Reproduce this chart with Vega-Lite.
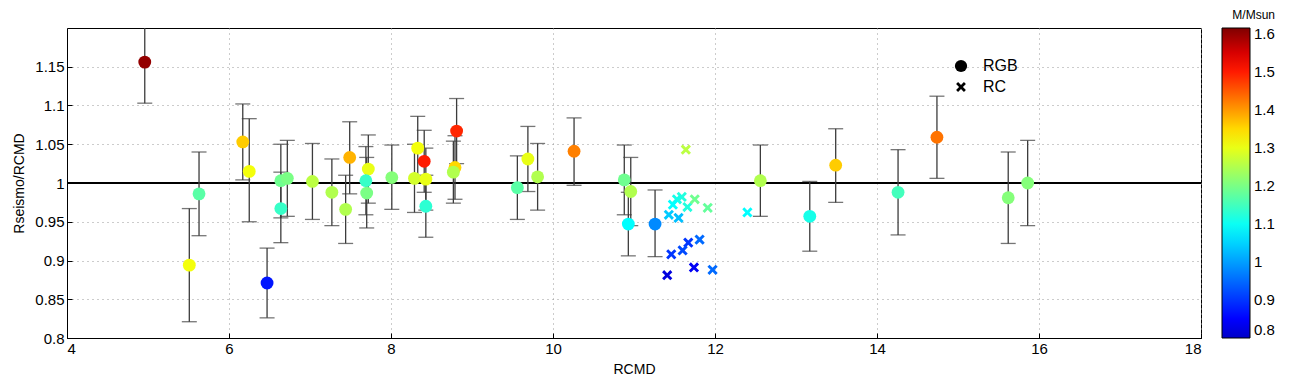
{
  "$schema": "https://vega.github.io/schema/vega-lite/v6.json",
  "width": 1134,
  "height": 310,
  "autosize": {"type": "none"},
  "padding": {"left": 67, "top": 28, "right": 92, "bottom": 44},
  "background": "white",
  "config": {
    "font": "Liberation Sans",
    "view": {"stroke": "black", "strokeWidth": 1},
    "axis": {
      "labelFont": "Liberation Sans",
      "titleFont": "Liberation Sans",
      "labelFontSize": 15,
      "titleFontSize": 14,
      "titleFontWeight": "normal",
      "labelColor": "black",
      "titleColor": "black",
      "domainColor": "black",
      "tickColor": "black",
      "tickSize": -5,
      "labelPadding": 8,
      "grid": true,
      "gridColor": "#999999",
      "gridDash": [1, 4],
      "gridWidth": 1
    }
  },
  "data": {
    "values": [
      {"r": 4.96, "ratio": 1.156, "lo": 1.103, "hi": 1.209, "mass": 1.6, "type": "RGB"},
      {"r": 5.51, "ratio": 0.894, "lo": 0.821, "hi": 0.967, "mass": 1.31, "type": "RGB"},
      {"r": 5.63, "ratio": 0.986, "lo": 0.932, "hi": 1.040, "mass": 1.17, "type": "RGB"},
      {"r": 6.17, "ratio": 1.053, "lo": 1.004, "hi": 1.102, "mass": 1.36, "type": "RGB"},
      {"r": 6.25, "ratio": 1.015, "lo": 0.950, "hi": 1.083, "mass": 1.31, "type": "RGB"},
      {"r": 6.47, "ratio": 0.871, "lo": 0.826, "hi": 0.916, "mass": 0.87, "type": "RGB"},
      {"r": 6.64, "ratio": 0.967, "lo": 0.923, "hi": 1.014, "mass": 1.14, "type": "RGB"},
      {"r": 6.64, "ratio": 1.003, "lo": 0.955, "hi": 1.050, "mass": 1.19, "type": "RGB"},
      {"r": 6.72, "ratio": 1.006, "lo": 0.957, "hi": 1.055, "mass": 1.2, "type": "RGB"},
      {"r": 7.03, "ratio": 1.002, "lo": 0.953, "hi": 1.051, "mass": 1.26, "type": "RGB"},
      {"r": 7.27, "ratio": 0.988, "lo": 0.945, "hi": 1.031, "mass": 1.25, "type": "RGB"},
      {"r": 7.44, "ratio": 0.966, "lo": 0.922, "hi": 1.010, "mass": 1.25, "type": "RGB"},
      {"r": 7.49, "ratio": 1.033, "lo": 0.986, "hi": 1.079, "mass": 1.38, "type": "RGB"},
      {"r": 7.72, "ratio": 1.018, "lo": 0.974, "hi": 1.062, "mass": 1.3, "type": "RGB"},
      {"r": 7.69, "ratio": 1.003, "lo": 0.959, "hi": 1.047, "mass": 1.14, "type": "RGB"},
      {"r": 7.70, "ratio": 0.987, "lo": 0.942, "hi": 1.033, "mass": 1.2, "type": "RGB"},
      {"r": 8.01, "ratio": 1.007, "lo": 0.966, "hi": 1.049, "mass": 1.21, "type": "RGB"},
      {"r": 8.33, "ratio": 1.045, "lo": 1.004, "hi": 1.086, "mass": 1.31, "type": "RGB"},
      {"r": 8.29, "ratio": 1.006, "lo": 0.962, "hi": 1.050, "mass": 1.28, "type": "RGB"},
      {"r": 8.41, "ratio": 1.028, "lo": 0.988, "hi": 1.068, "mass": 1.5, "type": "RGB"},
      {"r": 8.43, "ratio": 1.005, "lo": 0.965, "hi": 1.045, "mass": 1.3, "type": "RGB"},
      {"r": 8.43, "ratio": 0.970, "lo": 0.930, "hi": 1.010, "mass": 1.13, "type": "RGB"},
      {"r": 8.81, "ratio": 1.067, "lo": 1.025, "hi": 1.109, "mass": 1.49, "type": "RGB"},
      {"r": 8.79, "ratio": 1.020, "lo": 0.979, "hi": 1.061, "mass": 1.35, "type": "RGB"},
      {"r": 8.77, "ratio": 1.014, "lo": 0.974, "hi": 1.054, "mass": 1.25, "type": "RGB"},
      {"r": 9.56, "ratio": 0.994, "lo": 0.953, "hi": 1.035, "mass": 1.17, "type": "RGB"},
      {"r": 9.69, "ratio": 1.031, "lo": 0.989, "hi": 1.073, "mass": 1.3, "type": "RGB"},
      {"r": 9.81, "ratio": 1.008, "lo": 0.965, "hi": 1.051, "mass": 1.25, "type": "RGB"},
      {"r": 10.26, "ratio": 1.041, "lo": 0.997, "hi": 1.084, "mass": 1.42, "type": "RGB"},
      {"r": 10.88, "ratio": 1.004, "lo": 0.959, "hi": 1.049, "mass": 1.19, "type": "RGB"},
      {"r": 10.96, "ratio": 0.989, "lo": 0.945, "hi": 1.033, "mass": 1.25, "type": "RGB"},
      {"r": 10.93, "ratio": 0.947, "lo": 0.906, "hi": 0.988, "mass": 1.09, "type": "RGB"},
      {"r": 11.26, "ratio": 0.947, "lo": 0.905, "hi": 0.991, "mass": 0.98, "type": "RGB"},
      {"r": 12.56, "ratio": 1.003, "lo": 0.957, "hi": 1.049, "mass": 1.25, "type": "RGB"},
      {"r": 13.17, "ratio": 0.957, "lo": 0.912, "hi": 1.002, "mass": 1.11, "type": "RGB"},
      {"r": 13.49, "ratio": 1.023, "lo": 0.975, "hi": 1.070, "mass": 1.36, "type": "RGB"},
      {"r": 14.26, "ratio": 0.988, "lo": 0.933, "hi": 1.043, "mass": 1.15, "type": "RGB"},
      {"r": 14.74, "ratio": 1.059, "lo": 1.006, "hi": 1.112, "mass": 1.43, "type": "RGB"},
      {"r": 15.62, "ratio": 0.981, "lo": 0.922, "hi": 1.040, "mass": 1.21, "type": "RGB"},
      {"r": 15.86, "ratio": 1.000, "lo": 0.945, "hi": 1.055, "mass": 1.21, "type": "RGB"},
      {"r": 11.64, "ratio": 1.043, "mass": 1.26, "type": "RC"},
      {"r": 11.59, "ratio": 0.982, "mass": 1.12, "type": "RC"},
      {"r": 11.53, "ratio": 0.979, "mass": 1.11, "type": "RC"},
      {"r": 11.48, "ratio": 0.972, "mass": 1.09, "type": "RC"},
      {"r": 11.66, "ratio": 0.969, "mass": 1.12, "type": "RC"},
      {"r": 11.75, "ratio": 0.979, "mass": 1.19, "type": "RC"},
      {"r": 11.91, "ratio": 0.968, "mass": 1.18, "type": "RC"},
      {"r": 11.43, "ratio": 0.959, "mass": 1.04, "type": "RC"},
      {"r": 11.55, "ratio": 0.955, "mass": 1.03, "type": "RC"},
      {"r": 12.40, "ratio": 0.962, "mass": 1.09, "type": "RC"},
      {"r": 11.81, "ratio": 0.927, "mass": 0.95, "type": "RC"},
      {"r": 11.67, "ratio": 0.923, "mass": 0.9, "type": "RC"},
      {"r": 11.60, "ratio": 0.913, "mass": 0.92, "type": "RC"},
      {"r": 11.46, "ratio": 0.908, "mass": 0.9, "type": "RC"},
      {"r": 11.41, "ratio": 0.881, "mass": 0.82, "type": "RC"},
      {"r": 11.74, "ratio": 0.891, "mass": 0.84, "type": "RC"},
      {"r": 11.97, "ratio": 0.888, "mass": 0.95, "type": "RC"}
    ]
  },
  "encoding": {
    "x": {
      "field": "r", "type": "quantitative",
      "scale": {"domain": [4, 18], "nice": false, "zero": false},
      "axis": {"values": [4, 6, 8, 10, 12, 14, 16, 18], "title": "RCMD", "titlePadding": 6}
    }
  },
  "layer": [
    {
      "mark": {"type": "rule", "color": "black", "strokeWidth": 1},
      "encoding": {"y": {"datum": 1, "type": "quantitative"}, "x": null}
    },
    {
      "transform": [{"filter": "datum.type === 'RGB'"}],
      "mark": {"type": "rule", "color": "#3c3c3c", "strokeWidth": 1.3, "clip": true},
      "encoding": {
        "y": {"field": "lo", "type": "quantitative",
          "scale": {"domain": [0.8, 1.2], "nice": false, "zero": false},
          "axis": {"values": [0.8, 0.85, 0.9, 0.95, 1, 1.05, 1.1, 1.15], "format": "~g", "title": "Rseismo/RCMD", "titlePadding": 8}},
        "y2": {"field": "hi"}
      }
    },
    {
      "transform": [{"filter": "datum.type === 'RGB'"}],
      "mark": {"type": "tick", "orient": "horizontal", "color": "#3c3c3c", "size": 15, "thickness": 1.3, "clip": true},
      "encoding": {"y": {"field": "lo", "type": "quantitative"}}
    },
    {
      "transform": [{"filter": "datum.type === 'RGB'"}],
      "mark": {"type": "tick", "orient": "horizontal", "color": "#3c3c3c", "size": 15, "thickness": 1.3, "clip": true},
      "encoding": {"y": {"field": "hi", "type": "quantitative"}}
    },
    {
      "mark": {"type": "point", "filled": true, "opacity": 1, "strokeWidth": 0, "size": 165},
      "encoding": {
        "y": {"field": "ratio", "type": "quantitative"},
        "color": {
          "field": "mass", "type": "quantitative",
          "scale": {"domain": [0.8, 0.85, 1.09, 1.32, 1.52, 1.615], "range": ["#0000c8", "#0000ff", "#00ffff", "#ffff00", "#ff0000", "#800000"], "interpolate": "rgb"},
          "legend": {
            "type": "gradient",
            "title": "M/Msun", "orient": "none", "legendX": 1155, "legendY": -18,
            "direction": "vertical", "gradientLength": 310, "gradientThickness": 28,
            "gradientStrokeColor": "black", "gradientStrokeWidth": 1,
            "values": [0.8, 0.9, 1, 1.1, 1.2, 1.3, 1.4, 1.5, 1.6], "format": "~g",
            "labelFontSize": 15, "labelColor": "black", "labelFont": "Liberation Sans", "labelOverlap": false, "labelOffset": 4,
            "titleFontSize": 12, "titleFontWeight": "normal", "titleColor": "black", "titleFont": "Liberation Sans", "titlePadding": 6, "titleAnchor": "end"
          }
        },
        "shape": {
          "field": "type", "type": "nominal",
          "scale": {"domain": ["RGB", "RC"], "range": ["circle", "M-0.48,-0.8L0,-0.32L0.48,-0.8L0.8,-0.48L0.32,0L0.8,0.48L0.48,0.8L0,0.32L-0.48,0.8L-0.8,0.48L-0.32,0L-0.8,-0.48Z"]},
          "legend": {
            "title": null, "orient": "none", "legendX": 886, "legendY": 30,
            "symbolSize": 150, "symbolFillColor": "black", "symbolStrokeWidth": 0,
            "labelFontSize": 16, "labelColor": "black", "labelFont": "Liberation Sans", "labelOffset": 14, "rowPadding": 5
          }
        }
      }
    }
  ]
}
